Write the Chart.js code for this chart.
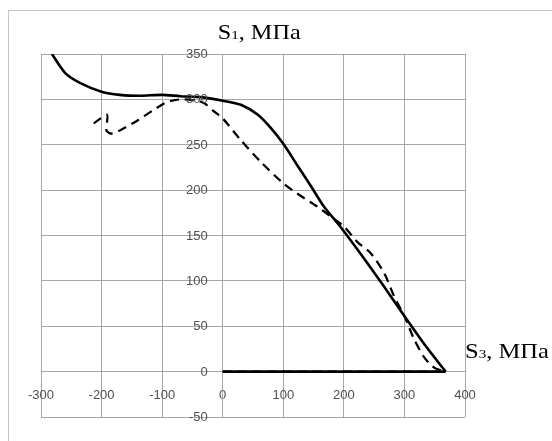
<!DOCTYPE html>
<html>
<head>
<meta charset="utf-8">
<script src="https://cdn.jsdelivr.net/npm/chart.js@4/dist/chart.umd.min.js"></script>
<style>
  html, body { margin: 0; padding: 0; background: #fff; }
  #wrap { position: relative; width: 552px; height: 441px; }
</style>
</head>
<body>
<div id="wrap"><canvas id="c"></canvas></div>
<script>
// ---- data ----
const solidX = [-282, -260, -235, -200, -170, -136, -100, -70, -37, 0, 30, 58, 80, 100, 123, 146, 167, 194, 233, 266, 299, 332, 368];
const solidY = [350, 329, 318, 308.5, 305, 304, 305, 303.5, 302.5, 298.5, 294, 283, 268, 251, 227.5, 204, 182, 160, 125, 94, 62, 31, 0];
const dashX = [-213, -191, -192, -186, -179, -169, -140, -115, -92, -70, -48, -31, -15, 0, 30, 63, 100, 129, 156, 178, 200, 222, 245, 267, 283, 300, 316, 333, 349, 365];
const dashY = [273.5, 283, 266, 262.5, 263, 266, 277, 288, 297, 300, 299, 296, 287, 279, 255, 231, 207.5, 193.5, 182, 171, 160, 143, 130, 108, 83, 61, 35.6, 15.4, 4.4, 0.5];
const baseX = [0, 368];
const baseY = [0, 0];
const dashBaseX = [0, 365];
const dashBaseY = [0, 0];
const xTicks = [-300, -200, -100, 0, 100, 200, 300, 400];
const yTicks = [-50, 0, 50, 100, 150, 200, 250, 300, 350];
const yTitle = ['S', '1', ', МПа'];
const xTitle = ['S', '3', ', МПа'];

const pts = (xs, ys) => xs.map((x, i) => ({x: x, y: ys[i]}));
const LABEL_FONT = '13px "Liberation Sans"';
const LABEL_COLOR = '#505050';

const frame = {
  id: 'frame',
  beforeDraw(chart) {
    const ctx = chart.ctx;
    ctx.save();
    ctx.strokeStyle = '#c4c4c4';
    ctx.lineWidth = 1;
    ctx.strokeRect(8.5, 10.5, 700, 700);
    ctx.restore();
  },
  afterDraw(chart) {
    const ctx = chart.ctx;
    const xs = chart.scales.x, ys = chart.scales.y;
    // y tick labels, right-aligned left of the vertical axis at x = 0
    ctx.save();
    ctx.font = LABEL_FONT;
    ctx.fillStyle = LABEL_COLOR;
    ctx.textAlign = 'right';
    ctx.textBaseline = 'middle';
    const ax = xs.getPixelForValue(0);
    ys.ticks.forEach(t => {
      ctx.fillText(String(t.value), ax - 15, ys.getPixelForValue(t.value) + 0.5);
    });
    ctx.restore();

    function drawSub(parts, x, baseline, size, targetW) {
      ctx.save();
      ctx.fillStyle = '#000';
      ctx.textBaseline = 'alphabetic';
      ctx.textAlign = 'left';
      const big = size + 'px "Liberation Serif"';
      const small = Math.round(size * 0.6) + 'px "Liberation Serif"';
      ctx.font = big;
      let w = ctx.measureText(parts[0]).width + ctx.measureText(parts[2]).width;
      ctx.font = small;
      w += ctx.measureText(parts[1]).width;
      const sx = targetW / w;
      ctx.translate(x, baseline);
      ctx.scale(sx, 1);
      let cx = 0;
      ctx.font = big;
      ctx.fillText(parts[0], cx, 0);
      cx += ctx.measureText(parts[0]).width;
      ctx.font = small;
      ctx.fillText(parts[1], cx, 0);
      cx += ctx.measureText(parts[1]).width;
      ctx.font = big;
      ctx.fillText(parts[2], cx, 0);
      ctx.restore();
    }
    drawSub(yTitle, xs.getPixelForValue(0) - 5, 38.5, 21, 83);
    drawSub(xTitle, xs.right, ys.getPixelForValue(0) - 14, 21, 84);
  }
};

new Chart(document.getElementById('c'), {
  type: 'scatter',
  data: {
    datasets: [
      { data: pts(dashBaseX, dashBaseY), showLine: true, borderColor: '#000', borderWidth: 2.25, borderDash: [9, 6], pointRadius: 0, tension: 0 },
      { data: pts(dashX, dashY), showLine: true, borderColor: '#000', borderWidth: 2.25, borderDash: [9, 6], pointRadius: 0, tension: 0.25 },
      { data: pts(solidX, solidY), showLine: true, borderColor: '#000', borderWidth: 2.6, pointRadius: 0, tension: 0.25 },
      { data: pts(baseX, baseY), showLine: true, borderColor: '#000', borderWidth: 2.6, pointRadius: 0, tension: 0 }
    ]
  },
  options: {
    responsive: true,
    maintainAspectRatio: false,
    animation: false,
    events: [],
    layout: { padding: { left: 41, top: 54, right: 87, bottom: 24 } },
    plugins: { legend: { display: false }, tooltip: { enabled: false }, title: { display: false } },
    scales: {
      x: {
        type: 'linear',
        position: { y: 0 },
        min: -300, max: 400,
        afterBuildTicks: (s) => { s.ticks = xTicks.map(v => ({value: v})); },
        grid: { color: '#a6a6a6', lineWidth: 1, drawTicks: false },
        border: { color: '#a6a6a6', width: 1 },
        ticks: { color: LABEL_COLOR, font: { family: 'Liberation Sans', size: 13 }, padding: 16, maxRotation: 0, autoSkip: false }
      },
      y: {
        type: 'linear',
        position: { x: 0 },
        min: -50, max: 350,
        afterBuildTicks: (s) => { s.ticks = yTicks.map(v => ({value: v})); },
        grid: { color: '#a6a6a6', lineWidth: 1, drawTicks: false },
        border: { color: '#a6a6a6', width: 1 },
        ticks: { display: false }
      }
    }
  },
  plugins: [frame]
});
</script>
</body>
</html>
